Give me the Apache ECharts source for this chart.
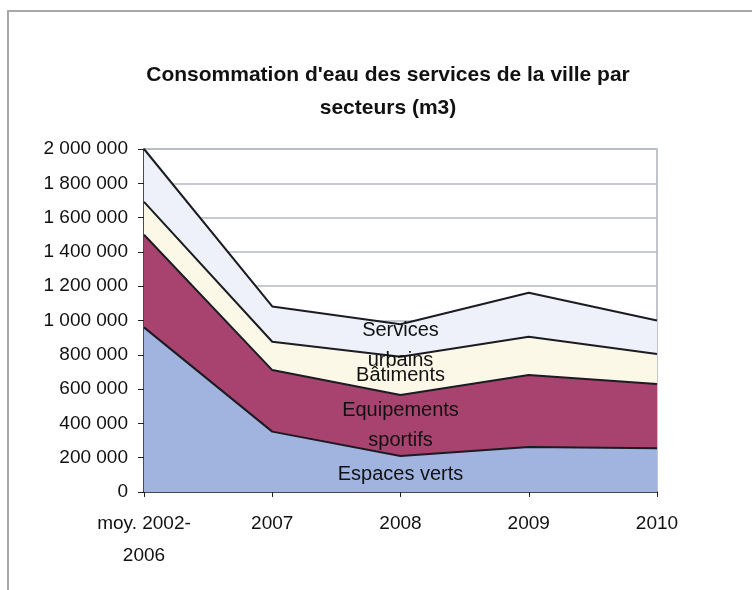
<!DOCTYPE html>
<html>
<head>
<meta charset="utf-8">
<script src="https://cdn.jsdelivr.net/npm/echarts@6/dist/echarts.min.js"></script>
<style>
  html, body { margin: 0; padding: 0; background: #fff; }
  #chart { width: 752px; height: 590px; }
</style>
</head>
<body>
<div id="chart"></div>
<script>
const categories = ['moy. 2002-\n2006', '2007', '2008', '2009', '2010']
const espacesVerts = [960000, 352000, 210000, 262000, 255000]
const equipementsSportifs = [540000, 359000, 356000, 420000, 375000]
const batiments = [192000, 165000, 223000, 223000, 175000]
const servicesUrbains = [308000, 206000, 189000, 257000, 195000]
const seriesNames = ['Espaces verts', 'Equipements\nsportifs', 'Bâtiments', 'Services\nurbains']
const labelIndex = 2 // Excel puts the labels on 2008

const font = 'Liberation Sans, Arial, sans-serif'
const colors = ['#a1b3df', '#a8436f', '#fbf8e8', '#eef1f9']

const chart = echarts.init(document.getElementById('chart'), null, { renderer: 'canvas' })

function fmt(v) {
    return String(v).replace(/\B(?=(\d{3})+(?!\d))/g, ' ')
}

function area(name, data, i) {
    return {
        name: name,
        type: 'line',
        stack: 'total',
        data: data,
        symbol: 'none',
        lineStyle: { color: '#1b1b22', width: 2 },
        areaStyle: { color: colors[i], opacity: 1 },
        z: 2
    }
}

chart.setOption({
    animation: false,
    title: {
        text: "Consommation d'eau des services de la ville par\nsecteurs (m3)",
        left: 383,
        textAlign: 'center',
        top: 54,
        textStyle: { fontFamily: font, fontSize: 21, fontWeight: 'bold', color: '#111', lineHeight: 33 }
    },
    grid: { left: 144, right: 95, top: 149, bottom: 98, show: true, borderColor: '#aeb2ba', borderWidth: 1.5 },
    xAxis: {
        type: 'category',
        data: categories,
        boundaryGap: false,
        axisLine: { lineStyle: { color: '#222', width: 1.5 } },
        axisTick: { show: true, length: 5, lineStyle: { color: '#222' } },
        axisLabel: { fontFamily: font, fontSize: 19, color: '#111', margin: 16, lineHeight: 32, interval: 0 },
        splitLine: { show: false }
    },
    yAxis: {
        type: 'value',
        min: 0,
        max: 2000000,
        interval: 200000,
        axisLine: { show: true, lineStyle: { color: '#222', width: 1.5 } },
        axisTick: { show: true, length: 6, lineStyle: { color: '#222' } },
        axisLabel: { fontFamily: font, fontSize: 19, color: '#111', margin: 16, formatter: fmt },
        splitLine: { lineStyle: { color: '#b4b8c0', width: 1.5 } }
    },
    series: [
        area(seriesNames[0], espacesVerts, 0),
        area(seriesNames[1], equipementsSportifs, 1),
        area(seriesNames[2], batiments, 2),
        area(seriesNames[3], servicesUrbains, 3)
    ]
})

// band labels, centred in each band at 2008
const stacks = [espacesVerts, equipementsSportifs, batiments, servicesUrbains]
let base = 0
const texts = []
stacks.forEach(function (s, i) {
    const v = s[labelIndex]
    const p = chart.convertToPixel({ seriesIndex: 0 }, [labelIndex, base + v / 2])
    texts.push({
        type: 'text',
        x: p[0],
        y: p[1] + (i === 3 ? 5 : 0),
        z: 10,
        style: {
            text: seriesNames[i],
            fontFamily: font,
            fontSize: 20,
            fill: '#111',
            align: 'center',
            verticalAlign: 'middle',
            lineHeight: 30
        }
    })
    base += v
})

chart.setOption({
    graphic: [{
        type: 'rect',
        shape: { x: 8, y: 11, width: 780, height: 620 },
        style: { fill: 'none', stroke: '#a8a8a8', lineWidth: 2 },
        z: 0
    }].concat(texts)
})
</script>
</body>
</html>
